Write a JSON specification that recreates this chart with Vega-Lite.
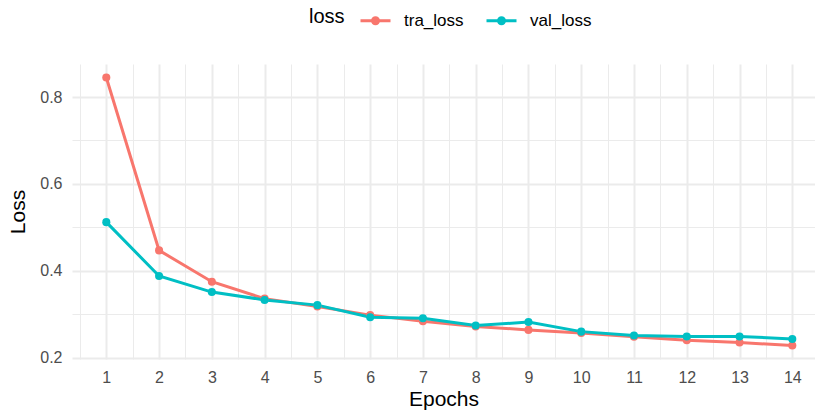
{
  "$schema": "https://vega.github.io/schema/vega-lite/v6.json",
  "autosize": {"type": "none"},
  "width": 743,
  "height": 295,
  "padding": {"left": 72, "top": 64, "right": 0, "bottom": 54},
  "background": "white",
  "config": {
    "font": "Liberation Sans",
    "view": {"stroke": null},
    "axis": {"domain": false, "ticks": false, "labelColor": "#4D4D4D", "labelFontSize": 16, "titleFontSize": 21, "titleFontWeight": "normal", "titleColor": "black", "gridColor": "#EBEBEB"}
  },
  "data": {"values": [
    {"epoch": 1, "loss": "tra_loss", "value": 0.845},
    {"epoch": 2, "loss": "tra_loss", "value": 0.447},
    {"epoch": 3, "loss": "tra_loss", "value": 0.375},
    {"epoch": 4, "loss": "tra_loss", "value": 0.336},
    {"epoch": 5, "loss": "tra_loss", "value": 0.318},
    {"epoch": 6, "loss": "tra_loss", "value": 0.298},
    {"epoch": 7, "loss": "tra_loss", "value": 0.284},
    {"epoch": 8, "loss": "tra_loss", "value": 0.272},
    {"epoch": 9, "loss": "tra_loss", "value": 0.264},
    {"epoch": 10, "loss": "tra_loss", "value": 0.257},
    {"epoch": 11, "loss": "tra_loss", "value": 0.248},
    {"epoch": 12, "loss": "tra_loss", "value": 0.240},
    {"epoch": 13, "loss": "tra_loss", "value": 0.235},
    {"epoch": 14, "loss": "tra_loss", "value": 0.228},
    {"epoch": 1, "loss": "val_loss", "value": 0.512},
    {"epoch": 2, "loss": "val_loss", "value": 0.388},
    {"epoch": 3, "loss": "val_loss", "value": 0.351},
    {"epoch": 4, "loss": "val_loss", "value": 0.333},
    {"epoch": 5, "loss": "val_loss", "value": 0.321},
    {"epoch": 6, "loss": "val_loss", "value": 0.293},
    {"epoch": 7, "loss": "val_loss", "value": 0.291},
    {"epoch": 8, "loss": "val_loss", "value": 0.274},
    {"epoch": 9, "loss": "val_loss", "value": 0.282},
    {"epoch": 10, "loss": "val_loss", "value": 0.260},
    {"epoch": 11, "loss": "val_loss", "value": 0.251},
    {"epoch": 12, "loss": "val_loss", "value": 0.249},
    {"epoch": 13, "loss": "val_loss", "value": 0.249},
    {"epoch": 14, "loss": "val_loss", "value": 0.243}
  ]},
  "mark": {"type": "line", "strokeWidth": 3, "point": {"filled": true, "size": 65}},
  "encoding": {
    "x": {
      "field": "epoch", "type": "quantitative", "title": "Epochs",
      "scale": {"domain": [0.35, 14.43], "nice": false, "zero": false},
      "axis": {
        "values": [0.5, 1, 1.5, 2, 2.5, 3, 3.5, 4, 4.5, 5, 5.5, 6, 6.5, 7, 7.5, 8, 8.5, 9, 9.5, 10, 10.5, 11, 11.5, 12, 12.5, 13, 13.5, 14],
        "labelExpr": "datum.value % 1 == 0 ? format(datum.value, 'd') : ''",
        "gridWidth": {"condition": {"test": "datum.value % 1 == 0", "value": 2}, "value": 1},
        "labelPadding": 10,
        "titlePadding": 3
      }
    },
    "y": {
      "field": "value", "type": "quantitative", "title": "Loss",
      "scale": {"domain": [0.197, 0.876], "nice": false, "zero": false},
      "axis": {
        "values": [0.2, 0.3, 0.4, 0.5, 0.6, 0.7, 0.8],
        "labelExpr": "round(datum.value * 10) % 2 == 0 ? format(datum.value, '.1f') : ''",
        "gridWidth": {"condition": {"test": "round(datum.value * 10) % 2 == 0", "value": 2}, "value": 1},
        "labelPadding": 10,
        "titlePadding": 11
      }
    },
    "color": {
      "field": "loss", "type": "nominal",
      "scale": {"domain": ["tra_loss", "val_loss"], "range": ["#F8766D", "#00BFC4"]},
      "legend": {
        "orient": "none", "direction": "horizontal", "legendX": 237, "legendY": -60,
        "title": "loss", "titleOrient": "left", "titleFontSize": 20, "titleFontWeight": "normal", "titleColor": "black",
        "titlePadding": 14,
        "labelFontSize": 17, "labelColor": "black", "labelOffset": 12, "columnPadding": 16,
        "symbolType": "M-1,0L1,0M-0.2,0A0.2,0.2 0 1,0 0.2,0A0.2,0.2 0 1,0 -0.2,0Z",
        "symbolSize": 900, "symbolStrokeWidth": 3,
        "encode": {"symbols": {"update": {"fill": {"scale": "color", "field": "value"}}}}
      }
    }
  }
}
